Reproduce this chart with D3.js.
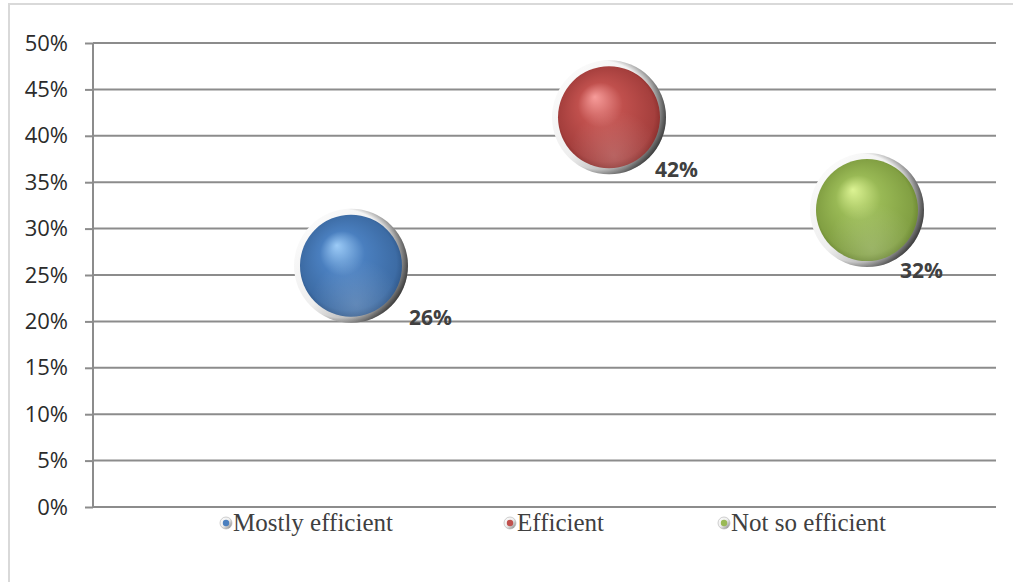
<!DOCTYPE html>
<html>
<head>
<meta charset="utf-8">
<script src="https://cdn.jsdelivr.net/npm/d3@7"></script>
<style>
  html, body { margin: 0; padding: 0; background: #ffffff; }
  svg { display: block; }
</style>
</head>
<body>
<svg id="chart" width="1013" height="582"></svg>
<script>
// Survey result: share of answers per efficiency rating
const categories = ["Mostly efficient", "Efficient", "Not so efficient"];
const positions = [1, 2, 3];          // x value of each bubble
const shares = [26, 42, 32];          // percent
const yTicks = [0, 5, 10, 15, 20, 25, 30, 35, 40, 45, 50];

// palette per category: [highlight, base, rim shade]
const palette = [
  ["#9ccbf7", "#4a7fbf", "#2a4f7e"],
  ["#f79c9a", "#c0504d", "#7d2624"],
  ["#dcf393", "#99b955", "#5f7a28"]
];
// nudges for the value labels relative to each bubble centre
const labelNudge = [[58, 59], [46, 60], [33, 68]];

const svg = d3.select("#chart");
const W = 1013, H = 582;
const plot = { left: 93, right: 996, top: 43, bottom: 507 };

// outer chart frame
svg.append("rect")
  .attr("x", 9).attr("y", 4)
  .attr("width", W + 20).attr("height", H + 20)
  .attr("fill", "#ffffff")
  .attr("stroke", "#d9d9d9").attr("stroke-width", 2);

const x = d3.scaleLinear().domain([0, 3.5]).range([plot.left, plot.right]);
const y = d3.scaleLinear().domain([0, 50]).range([plot.bottom, plot.top]);

// gradients
const defs = svg.append("defs");
const rim = defs.append("linearGradient").attr("id", "rim")
  .attr("x1", "0%").attr("y1", "0%").attr("x2", "100%").attr("y2", "100%");
rim.append("stop").attr("offset", "0%").attr("stop-color", "#ffffff");
rim.append("stop").attr("offset", "50%").attr("stop-color", "#eeeeee");
rim.append("stop").attr("offset", "80%").attr("stop-color", "#a8a8a8");
rim.append("stop").attr("offset", "100%").attr("stop-color", "#3a3a3a");

const rimShadow = defs.append("radialGradient").attr("id", "rimShadow")
  .attr("cx", "42%").attr("cy", "48%").attr("r", "58%");
rimShadow.append("stop").attr("offset", "82%").attr("stop-color", "#000").attr("stop-opacity", 0);
rimShadow.append("stop").attr("offset", "100%").attr("stop-color", "#000").attr("stop-opacity", 0.6);

palette.forEach((p, i) => {
  const g = defs.append("radialGradient").attr("id", "sphere" + i)
    .attr("cx", "50%").attr("cy", "50%").attr("r", "55%")
    .attr("fx", "36%").attr("fy", "30%");
  g.append("stop").attr("offset", "0%").attr("stop-color", p[0]);
  g.append("stop").attr("offset", "40%").attr("stop-color", p[1]);
  g.append("stop").attr("offset", "85%").attr("stop-color", d3.interpolateRgb(p[1], p[2])(0.4));
  g.append("stop").attr("offset", "100%").attr("stop-color", p[2]);
});
const glow = defs.append("radialGradient").attr("id", "glow")
  .attr("cx", "55%").attr("cy", "88%").attr("r", "45%");
glow.append("stop").attr("offset", "0%").attr("stop-color", "#ffffff").attr("stop-opacity", 0.18);
glow.append("stop").attr("offset", "100%").attr("stop-color", "#ffffff").attr("stop-opacity", 0);

// horizontal gridlines
svg.append("g")
  .selectAll("line")
  .data(yTicks)
  .join("line")
  .attr("x1", plot.left).attr("x2", plot.right)
  .attr("y1", d => y(d)).attr("y2", d => y(d))
  .attr("stroke", "#8c8c8c").attr("stroke-width", 2);

// y axis
const yAxis = d3.axisLeft(y)
  .tickValues(yTicks)
  .tickFormat(d => d + "%")
  .tickSize(8)
  .tickPadding(17);
const ya = svg.append("g").attr("transform", `translate(${plot.left},0)`).call(yAxis);
ya.select(".domain").attr("stroke", "#8c8c8c").attr("stroke-width", 2)
  .attr("d", `M0,${plot.top}V${plot.bottom}`);
ya.selectAll(".tick line").attr("stroke", "#8c8c8c").attr("stroke-width", 2);
ya.selectAll(".tick text")
  .attr("fill", "#2b2b2b")
  .style("font-family", "'Open Sans', sans-serif")
  .style("font-size", "22px");

// bubbles
const R = 57;
const bubble = svg.append("g").selectAll("g")
  .data(shares)
  .join("g")
  .attr("transform", (d, i) => `translate(${x(positions[i])},${y(d)})`);
bubble.append("circle").attr("r", R).attr("fill", "url(#rim)");
bubble.append("circle").attr("r", R).attr("fill", "url(#rimShadow)");
bubble.append("circle").attr("r", R - 6).attr("fill", (d, i) => `url(#sphere${i})`);
bubble.append("circle").attr("r", R - 6).attr("fill", "url(#glow)");

// value labels
svg.append("g").selectAll("text")
  .data(shares)
  .join("text")
  .attr("x", (d, i) => x(positions[i]) + labelNudge[i][0])
  .attr("y", (d, i) => y(d) + labelNudge[i][1])
  .attr("fill", "#404040")
  .style("font-family", "'Open Sans', sans-serif")
  .style("font-weight", "bold")
  .style("font-size", "21px")
  .text(d => d + "%");

// legend
const legendX = [226, 510, 724];
const legend = svg.append("g").selectAll("g")
  .data(categories)
  .join("g")
  .attr("transform", (d, i) => `translate(${legendX[i]},523)`);
legend.append("circle").attr("r", 6).attr("fill", "url(#rim)").attr("stroke", "#b0b0b0").attr("stroke-width", 0.6);
legend.append("circle").attr("r", 3.2).attr("fill", (d, i) => palette[i][1]);
legend.append("text")
  .attr("x", 7).attr("y", 8)
  .attr("fill", "#404040")
  .style("font-family", "'Liberation Serif', serif")
  .style("font-size", "25px")
  .text(d => d);
</script>
</body>
</html>
